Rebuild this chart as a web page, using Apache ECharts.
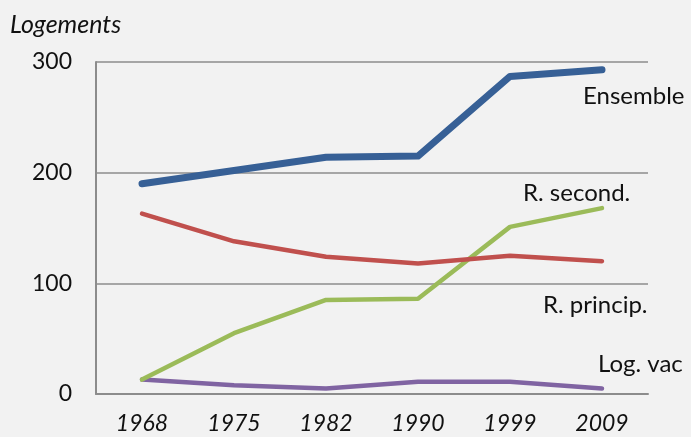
<!DOCTYPE html>
<html>
<head>
<meta charset="utf-8">
<script src="https://cdn.jsdelivr.net/npm/echarts@6/dist/echarts.min.js"></script>
<style>
html,body{margin:0;padding:0;background:#f2f2f2;}
#c{width:691px;height:437px;}
</style>
</head>
<body>
<div id="c"></div>
<script>
var years = ['1968','1975','1982','1990','1999','2009'];
var ensemble = [190, 202, 214, 215, 287, 293];
var rPrincip = [163, 138, 124, 118, 125, 120];
var rSecond = [13, 55, 85, 86, 151, 168];
var logVac = [13, 8, 5, 11, 11, 5];
var yTicks = [0, 100, 200, 300];
var seriesNames = ['Ensemble', 'R. princip.', 'R. second.', 'Log. vac'];

var font = 'Lato, "Open Sans", sans-serif';
var chart = echarts.init(document.getElementById('c'), null, {renderer: 'canvas'});

function line(name, data, color, width, z) {
  return {
    name: name, type: 'line', data: data, symbol: 'none', z: z,
    lineStyle: {color: color, width: width, cap: 'round', join: 'round'}
  };
}
function lbl(text, x, y, size, italic) {
  return {type: 'text', x: x, y: y, style: {text: text, fontFamily: font, fontStyle: italic ? 'italic' : 'normal',
    fontSize: size, fill: '#111', textAlign: 'left', textVerticalAlign: 'middle'}};
}

chart.setOption({
  backgroundColor: '#f2f2f2',
  animation: false,
  grid: {left: 96, right: 43, top: 62, bottom: 43},
  xAxis: {
    type: 'category', data: years, boundaryGap: true,
    axisLine: {lineStyle: {color: '#8c8c8c', width: 2}},
    axisTick: {show: false},
    axisLabel: {fontFamily: font, fontStyle: 'italic', fontSize: 23, color: '#111', margin: 18}
  },
  yAxis: {
    type: 'value', min: yTicks[0], max: yTicks[yTicks.length - 1], interval: 100,
    axisLine: {show: true, lineStyle: {color: '#8c8c8c', width: 2}},
    axisTick: {show: false},
    splitLine: {lineStyle: {color: '#8c8c8c', width: 1.5}},
    axisLabel: {fontFamily: font, fontSize: 23, color: '#111', margin: 24}
  },
  series: [
    line(seriesNames[0], ensemble, '#376096', 7, 4),
    line(seriesNames[1], rPrincip, '#c0504d', 4.5, 3),
    line(seriesNames[2], rSecond, '#9bbb59', 4.5, 2),
    line(seriesNames[3], logVac, '#8064a2', 4.5, 1)
  ],
  graphic: [
    lbl('Logements', 10, 25, 25, true),
    lbl(seriesNames[0], 583, 96, 24, false),
    lbl(seriesNames[2], 523, 193, 24, false),
    lbl(seriesNames[1], 543, 305, 24, false),
    lbl(seriesNames[3], 598, 364, 24, false)
  ]
});
</script>
</body>
</html>
